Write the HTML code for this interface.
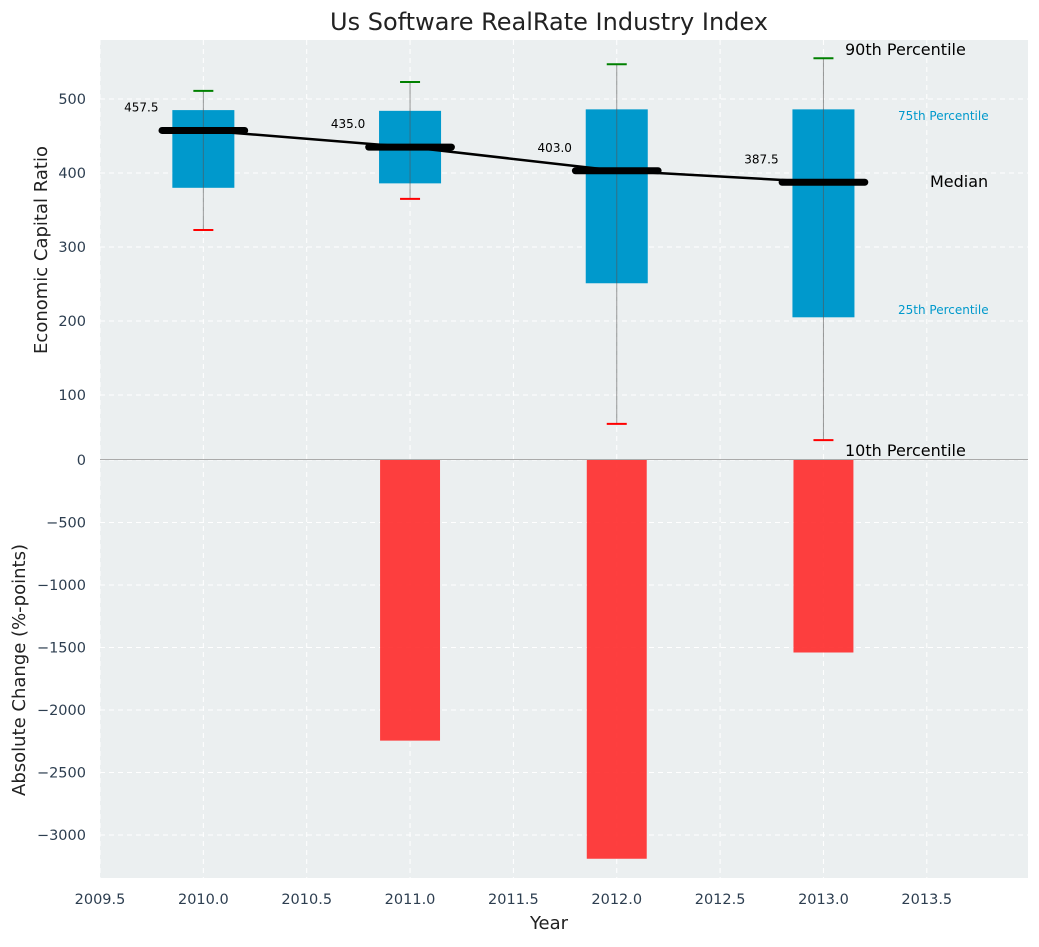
<!DOCTYPE html>
<html><head><meta charset="utf-8"><style>
body{margin:0;background:#fff;font-family:"Liberation Sans","DejaVu Sans",sans-serif}
text{font-family:"DejaVu Sans","Liberation Sans",sans-serif}
</style></head><body>
<svg id="chart" width="1039" height="942" xmlns="http://www.w3.org/2000/svg"></svg>
<script>
const years=[2010,2011,2012,2013];
const medians=[457.5,435.0,403.0,387.5];
const q1=[380,386,251,205];
const q3=[485,484,486,486];
const p10=[323,365,61,39];
const p90=[511,523,547,555];
const changes=[0,-2245,-3190,-1540];
const xTicks=[2009.5,2010.0,2010.5,2011.0,2011.5,2012.0,2012.5,2013.0,2013.5];
const topTicks=[100,200,300,400,500];
const botTicks=[0,-500,-1000,-1500,-2000,-2500,-3000];

const NS="http://www.w3.org/2000/svg";
const svg=document.getElementById('chart');
function el(t,a,p){const e=document.createElementNS(NS,t);for(const k in a)e.setAttribute(k,a[k]);(p||svg).appendChild(e);return e;}
const L=100,R=1028,T1=40,B1=459,T2=459,B2=878;
const xs=v=>L+(v-2009.5)*206.7;
const yT=v=>469-v*0.74;
const yB=v=>460-v*0.125;
const fmt=v=>String(v).replace('-','\u2212');

let bg=el('rect',{x:L,y:T1,width:R-L,height:B1-T1,fill:'#ebeff0'});

let bg2=el('rect',{x:L,y:T2,width:R-L,height:B2-T2,fill:'#ebeff0'});

xTicks.forEach(t=>{el('line',{x1:xs(t),x2:xs(t),y1:T1,y2:B2,stroke:'#fff','stroke-dasharray':'5,4','stroke-width':1});});
topTicks.forEach(t=>{el('line',{x1:L,x2:R,y1:yT(t),y2:yT(t),stroke:'#fff','stroke-dasharray':'5,4'});
 const tx=el('text',{x:86,y:yT(t)+5,'text-anchor':'end','font-size':14.5,fill:'#2d3e50'});tx.textContent=fmt(t);
 });
botTicks.forEach(t=>{el('line',{x1:L,x2:R,y1:yB(t),y2:yB(t),stroke:'#fff','stroke-dasharray':'5,4'});
 const tx=el('text',{x:86,y:yB(t)+5,'text-anchor':'end','font-size':14.5,fill:'#2d3e50'});tx.textContent=fmt(t);
 });
xTicks.forEach(t=>{const tx=el('text',{x:xs(t),y:904,'text-anchor':'middle','font-size':14.5,fill:'#2d3e50'});tx.textContent=t.toFixed(1);
 });
el('line',{x1:L,x2:R,y1:459.5,y2:459.5,stroke:'#aaa','stroke-width':1});

years.forEach((y,i)=>{if(changes[i]===0)return;
 const b=el('rect',{x:xs(y-0.145),y:yB(0),width:0.29*206.7,height:yB(changes[i])-yB(0),fill:'#ff2a2a','fill-opacity':0.9});
 });

years.forEach((y,i)=>{
 const b=el('rect',{x:xs(y-0.15),y:yT(q3[i]),width:0.3*206.7,height:yT(q1[i])-yT(q3[i]),fill:'#0099cc'});
 
 el('line',{x1:xs(y),x2:xs(y),y1:yT(p90[i]),y2:yT(p10[i]),stroke:'#555','stroke-opacity':0.6,'stroke-width':1});
 const c1=el('line',{x1:xs(y)-10,x2:xs(y)+10,y1:yT(p90[i]),y2:yT(p90[i]),stroke:'green','stroke-width':2});
 
 const c2=el('line',{x1:xs(y)-10,x2:xs(y)+10,y1:yT(p10[i]),y2:yT(p10[i]),stroke:'red','stroke-width':2});
 
});
const pl=el('polyline',{points:years.map((y,i)=>xs(y)+','+yT(medians[i])).join(' '),fill:'none',stroke:'#000','stroke-width':2.5});

years.forEach((y,i)=>{
 const m=el('line',{x1:xs(y-0.2),x2:xs(y+0.2),y1:yT(medians[i]),y2:yT(medians[i]),stroke:'#000','stroke-width':7,'stroke-linecap':'round'});
 
 const t=el('text',{x:xs(y-0.3),y:yT(medians[i])-19,'text-anchor':'middle','font-size':12,fill:'#000'});t.textContent=medians[i].toFixed(1);
 
});
const ann=[['90th Percentile',845,55,16,'#000'],['75th Percentile',898,120,12,'#0099cc'],['Median',930,187,16,'#000'],['25th Percentile',898,314,12,'#0099cc'],['10th Percentile',845,456,16,'#000']];
ann.forEach(a=>{const t=el('text',{x:a[1],y:a[2],'font-size':a[3],fill:a[4]});t.textContent=a[0];
 });
let t=el('text',{x:549,y:30,'text-anchor':'middle','font-size':24,fill:'#222'});t.textContent='Us Software RealRate Industry Index';

t=el('text',{x:549,y:929,'text-anchor':'middle','font-size':18,fill:'#222'});t.textContent='Year';

t=el('text',{x:0,y:0,'text-anchor':'middle','font-size':18,fill:'#222',transform:'translate(47,250) rotate(-90)'});t.textContent='Economic Capital Ratio';

t=el('text',{x:0,y:0,'text-anchor':'middle','font-size':18,fill:'#222',transform:'translate(25,670) rotate(-90)'});t.textContent='Absolute Change (%-points)';

</script>
</body></html>
